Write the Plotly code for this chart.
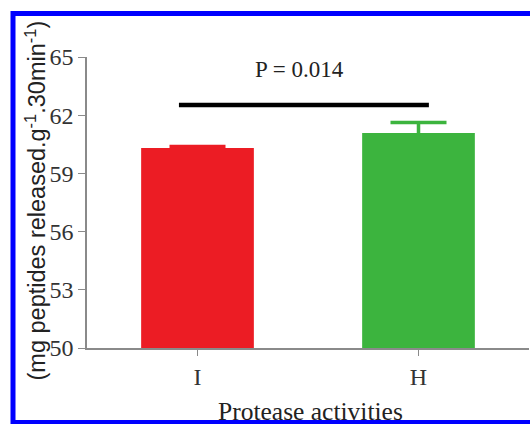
import plotly.graph_objects as go

# Protease activity per group
groups = ["I", "H"]
means = [60.31, 61.08]
errors = [0.08, 0.55]
bar_colors = ["#ec1c24", "#3cb43e"]

y_ticks = [50, 53, 56, 59, 62, 65]
p_label = "P = 0.014"
sig_y = 62.53

W, H = 530, 424
L, R, T, B = 87, 1, 57, 76
pw, ph = W - L - R, H - T - B


def px_x(px):
    return (px - L) / pw


def px_y(py):
    return (H - B - py) / ph


fig = go.Figure()
for g, m, e, c in zip(groups, means, errors, bar_colors):
    fig.add_trace(go.Bar(
        x=[g], y=[m], width=0.51,
        marker=dict(color=c, line=dict(width=0)),
        error_y=dict(type="data", array=[e], visible=True,
                     color=c, thickness=3.5, width=28),
        showlegend=False,
    ))

serif = "Liberation Serif"
sans = "Liberation Sans"

fig.update_layout(
    width=W, height=H,
    margin=dict(l=L, r=R, t=T, b=B, pad=0),
    paper_bgcolor="white", plot_bgcolor="white",
    bargap=0.49,
    xaxis=dict(
        type="category", range=[-0.5, 1.5],
        showline=True, linecolor="#8a8a8a", linewidth=1.5,
        ticks="outside", ticklen=6, tickcolor="#8a8a8a", tickwidth=1.2,
        tickfont=dict(family=serif, size=24, color="#333333"),
        showgrid=False, zeroline=False,
    ),
    yaxis=dict(
        range=[50, 65], tickvals=y_ticks,
        showline=True, linecolor="#8a8a8a", linewidth=1.5,
        ticks="outside", ticklen=7, tickcolor="#8a8a8a", tickwidth=1.2,
        tickfont=dict(family=serif, size=24, color="#333333"),
        showgrid=False, zeroline=False,
    ),
    shapes=[
        dict(type="line", xref="x", yref="y",
             x0=-0.084, x1=1.047, y0=sig_y, y1=sig_y,
             line=dict(color="black", width=4.5)),
        dict(type="rect", xref="paper", yref="paper",
             x0=px_x(13), x1=px_x(545), y0=px_y(422.5), y1=px_y(13.5),
             line=dict(color="#0000ff", width=5), fillcolor="rgba(0,0,0,0)",
             layer="above"),
    ],
    annotations=[
        dict(text=p_label, xref="x", yref="y", x=0.46, y=64.35,
             xanchor="center", yanchor="middle", showarrow=False,
             font=dict(family=serif, size=23, color="#222222")),
        dict(text="Protease activities", xref="paper", yref="paper",
             x=px_x(310), y=px_y(411), xanchor="center", yanchor="middle",
             showarrow=False,
             font=dict(family=serif, size=25.5, color="#222222")),
        dict(text="(mg peptides released.g<sup>-1</sup>.30min<sup>-1</sup>)",
             xref="paper", yref="paper", x=px_x(35), y=px_y(200.5),
             xanchor="center", yanchor="middle",
             textangle=-90, showarrow=False,
             font=dict(family=sans, size=23.5, color="#222222")),
    ],
)

fig.write_html("out.html")
